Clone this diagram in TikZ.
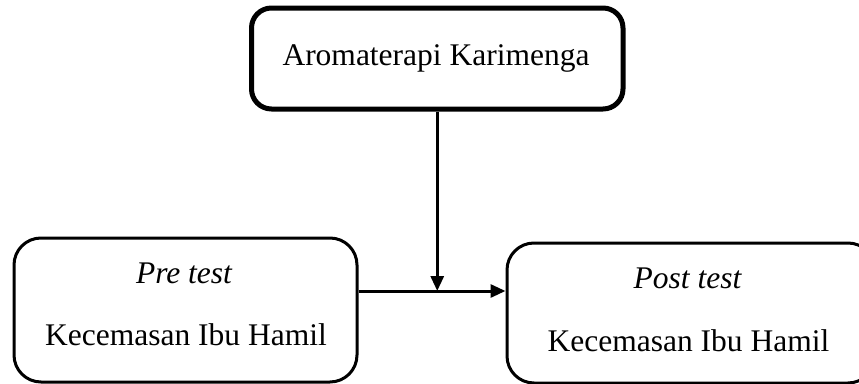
\documentclass[tikz,border=0pt]{standalone}
\usepackage{fontspec}
\setmainfont{Liberation Serif}
\usetikzlibrary{arrows.meta}
\begin{document}
\begin{tikzpicture}[x=1pt,y=-1pt,
  boxthick/.style={draw,rounded corners=20pt,line width=5pt,inner sep=0pt},
  boxthin/.style={draw,rounded corners=27pt,line width=3pt,inner sep=0pt},
  lbl/.style={anchor=base,inner sep=0pt,font=\fontsize{31.5}{36}\selectfont},
  arr/.style={line width=3pt,-{Triangle[length=15pt,width=13pt]}}]
\useasboundingbox (0,0) rectangle (859,383);
\node[boxthick,minimum width=371.5pt,minimum height=101pt] (top) at (437.25,58.5) {};
\node[boxthin,minimum width=343pt,minimum height=144pt] (left) at (185.5,310) {};
\node[boxthin,minimum width=368pt,minimum height=140pt] (right) at (691,313) {};
\node[lbl] (ttop) at (436,65) {Aromaterapi Karimenga};
\node[lbl] (tpre) at (184,283) {\itshape Pre test};
\node[lbl] (tk1) at (186,345.5) {Kecemasan Ibu Hamil};
\node[lbl] (tpost) at (687.5,288.5) {\itshape Post test};
\node[lbl] (tk2) at (688.5,351) {Kecemasan Ibu Hamil};
\coordinate (j) at (437.25,291);
\draw[arr] (top.south) -- (j);
\draw[arr] (left.east |- j) -- (right.west |- j);
\end{tikzpicture}
\end{document}
